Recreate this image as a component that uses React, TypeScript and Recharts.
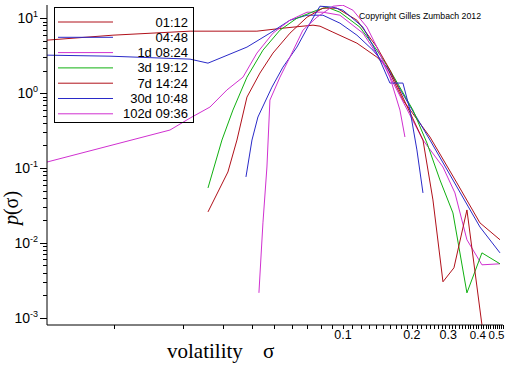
import React from 'react';
import { LineChart, Line, XAxis, YAxis } from 'recharts';

const seriesNames = ['01:12', '04:48', '1d 08:24', '3d 19:12', '7d 14:24', '30d 10:48', '102d 09:36'];
const seriesColors = ['#b0101a', '#2a2ac8', '#d030d0', '#10b010', '#b0101a', '#2a2ac8', '#d030d0'];

const sigma0112 = [0.0051, 0.0099, 0.0215, 0.0421, 0.0547, 0.074, 0.0794, 0.0904, 0.1151, 0.1407, 0.1556, 0.1828, 0.2399, 0.3146, 0.3965, 0.485];
const p0112 = [5.09, 5.93, 6.71, 6.71, 7.36, 8.07, 7.82, 6.51, 4.64, 3.02, 2.22, 0.806, 0.259, 0.0631, 0.0185, 0.011];

const sigma0448 = [0.0051, 0.00961, 0.0215, 0.02574, 0.03809, 0.04799, 0.05869, 0.06966, 0.08176, 0.09703, 0.1151, 0.1352, 0.1556, 0.2399, 0.3146, 0.3965, 0.485];
const p0448 = [3.21, 3.11, 2.84, 2.51, 4.11, 6.31, 9.4, 10.96, 10.96, 8.58, 5.93, 3.74, 2.22, 0.236, 0.0558, 0.0163, 0.00735];

const sigma1d = [0.0051, 0.01756, 0.0215, 0.02626, 0.03113, 0.03659, 0.04211, 0.04947, 0.05869, 0.06966, 0.08176, 0.09703, 0.1223, 0.1495, 0.2236, 0.2734, 0.3084, 0.3479, 0.4046, 0.485];
const p1d = [0.12, 0.321, 0.464, 0.651, 1.1, 1.63, 3.42, 6.31, 9.4, 12.02, 12.02, 10.96, 6.31, 2.51, 0.236, 0.103, 0.0464, 0.011, 0.00509, 0.00525];

const sigma3d = [0.02574, 0.02962, 0.03308, 0.03809, 0.04473, 0.05307, 0.06296, 0.077, 0.08514, 0.09703, 0.1186, 0.1407, 0.1604, 0.2022, 0.2328, 0.2652, 0.3022, 0.3479, 0.4046, 0.485];
const p3d = [0.0541, 0.236, 0.593, 1.63, 3.74, 6.92, 10.0, 12.78, 14.02, 12.02, 7.59, 3.74, 2.03, 0.593, 0.215, 0.0692, 0.0251, 0.00215, 0.00735, 0.00525];

const sigma7d = [0.02574, 0.03145, 0.03444, 0.03809, 0.0434, 0.04947, 0.05869, 0.06966, 0.08176, 0.09415, 0.1151, 0.1407, 0.1604, 0.2236, 0.2472, 0.2734, 0.3053, 0.3479, 0.4046];
const p7d = [0.0259, 0.0884, 0.236, 0.884, 1.85, 3.42, 6.31, 10.31, 13.6, 13.6, 9.4, 4.11, 2.03, 0.236, 0.0374, 0.00302, 0.00464, 0.0275, 0.0008];

const sigma30d = [0.03771, 0.04006, 0.04253, 0.04897, 0.0547, 0.06296, 0.07178, 0.07935, 0.09044, 0.1, 0.1223, 0.1407, 0.1604, 0.1828, 0.1962, 0.2104, 0.2236];
const p30d = [0.0759, 0.236, 0.479, 1.2, 2.22, 4.11, 8.58, 14.45, 14.02, 12.78, 7.59, 3.42, 1.36, 1.36, 0.593, 0.174, 0.0464];

const sigma102d = [0.04296, 0.04473, 0.04656, 0.04799, 0.05307, 0.05869, 0.06687, 0.077, 0.09044, 0.1, 0.1106, 0.1273, 0.1407, 0.1604, 0.1774, 0.1865];
const p102d = [0.00215, 0.0185, 0.103, 0.806, 1.63, 3.02, 6.92, 10.31, 14.45, 14.9, 12.78, 7.59, 4.11, 1.63, 0.593, 0.259];

const xTickValues = Array.from({ length: 50 }, (_, i) => (i + 1) / 100);
const xTickLabels = [0.1, 0.2, 0.3, 0.4, 0.5];
const yExponents = [-3, -2, -1, 0, 1];
const yTickValues: number[] = [];
yExponents.forEach((e) => {
  const maxM = e === 1 ? 1 : 9;
  for (let m = 1; m <= maxM; m++) yTickValues.push(m * Math.pow(10, e));
});

const build = (s: number[], p: number[]) => s.map((v, i) => ({ s: v, p: p[i] }));
const seriesData = [
  build(sigma0112, p0112),
  build(sigma0448, p0448),
  build(sigma1d, p1d),
  build(sigma3d, p3d),
  build(sigma7d, p7d),
  build(sigma30d, p30d),
  build(sigma102d, p102d),
];

const SANS = '"Liberation Sans", Arial, sans-serif';
const SERIF = '"Liberation Serif", "Times New Roman", serif';

const XTick = (props: any) => {
  const { x, y, payload } = props;
  const v = payload.value;
  const lbl = xTickLabels.find((t) => Math.abs(t - v) < 1e-9);
  const px = Math.round(x) + 0.5;
  let tx = x;
  let anchor: any = 'middle';
  let fs = 12.5;
  if (lbl === 0.5) { tx = x + 1.5; anchor = 'end'; fs = 11.5; }
  if (lbl === 0.4) { tx = x - 3; fs = 11.5; }
  if (lbl === 0.3) { tx = x - 4; }
  return (
    <g>
      <line x1={px} x2={px} y1={y} y2={y + 4} stroke="#000" strokeWidth={1} shapeRendering="crispEdges" />
      {lbl !== undefined && (
        <text x={tx} y={y + 14} textAnchor={anchor} fontFamily={SANS} fontSize={fs} fill="#000">
          {String(lbl)}
        </text>
      )}
    </g>
  );
};

const YTick = (props: any) => {
  const { x, y, payload } = props;
  const v = payload.value;
  const e = Math.round(Math.log10(v));
  const isMajor = Math.abs(v - Math.pow(10, e)) < 1e-12 * Math.max(1, v);
  const py = Math.round(y) + 0.5;
  return (
    <g>
      <line x1={isMajor ? x - 7 : x - 4} x2={x} y1={py} y2={py} stroke="#000" strokeWidth={1} shapeRendering="crispEdges" />
      {isMajor && (
        <text x={x - 9} y={y + 5} textAnchor="end" fontFamily={SANS} fontSize={14} fill="#000">
          <tspan>10</tspan>
          <tspan dy={-6} fontSize={9}>{e < 0 ? '-' + Math.abs(e) : String(e)}</tspan>
        </text>
      )}
    </g>
  );
};

export default function App() {
  return (
    <div style={{ position: 'absolute', left: 0, top: 0, width: 512, height: 366, background: '#fff' }}>
      <LineChart width={512} height={366} margin={{ top: 5, right: 9, bottom: 0, left: 0 }}>
        <XAxis
          dataKey="s"
          type="number"
          scale="log"
          domain={[0.0051, 0.5]}
          allowDataOverflow
          ticks={xTickValues}
          interval={0}
          tickSize={0}
          tickMargin={0}
          tickLine={false}
          tick={<XTick />}
          axisLine={{ stroke: '#000', strokeWidth: 1 }}
          height={41}
        />
        <YAxis
          dataKey="p"
          type="number"
          scale="log"
          domain={[0.0008, 15]}
          allowDataOverflow
          ticks={yTickValues}
          interval={0}
          tickSize={0}
          tickMargin={0}
          tickLine={false}
          tick={<YTick />}
          axisLine={{ stroke: '#000', strokeWidth: 1 }}
          width={47}
        />
        {seriesData.map((d, i) => (
          <Line
            key={seriesNames[i]}
            data={d}
            dataKey="p"
            type="linear"
            stroke={seriesColors[i]}
            strokeWidth={1}
            dot={false}
            activeDot={false}
            isAnimationActive={false}
          />
        ))}
      </LineChart>
      <svg width={512} height={366} style={{ position: 'absolute', left: 0, top: 0, pointerEvents: 'none' }}>
        <rect x={54.5} y={7.5} width={139} height={115} fill="none" stroke="#000" strokeWidth={1} />
        {seriesNames.map((n, i) => {
          const ly = 22 + i * 15.3;
          return (
            <g key={n}>
              <line x1={58} x2={113} y1={ly} y2={ly} stroke={seriesColors[i]} strokeWidth={1} />
              <text x={188} y={ly + 4.5} textAnchor="end" fontFamily={SANS} fontSize={13} fill="#000">{n}</text>
            </g>
          );
        })}
        <text x={359} y={19} fontFamily={SANS} fontSize={9.5} textLength={122} lengthAdjust="spacingAndGlyphs" fill="#000">
          Copyright Gilles Zumbach 2012
        </text>
        <text transform="translate(18,208) rotate(-90)" textAnchor="middle" fontFamily={SERIF} fontSize={20} fill="#000">
          <tspan fontStyle="italic">p</tspan>(σ)
        </text>
        <text x={167} y={358} fontFamily={SERIF} fontSize={21} fill="#000">volatility</text>
        <text x={263} y={358} fontFamily={SERIF} fontSize={21} fill="#000">σ</text>
      </svg>
    </div>
  );
}
